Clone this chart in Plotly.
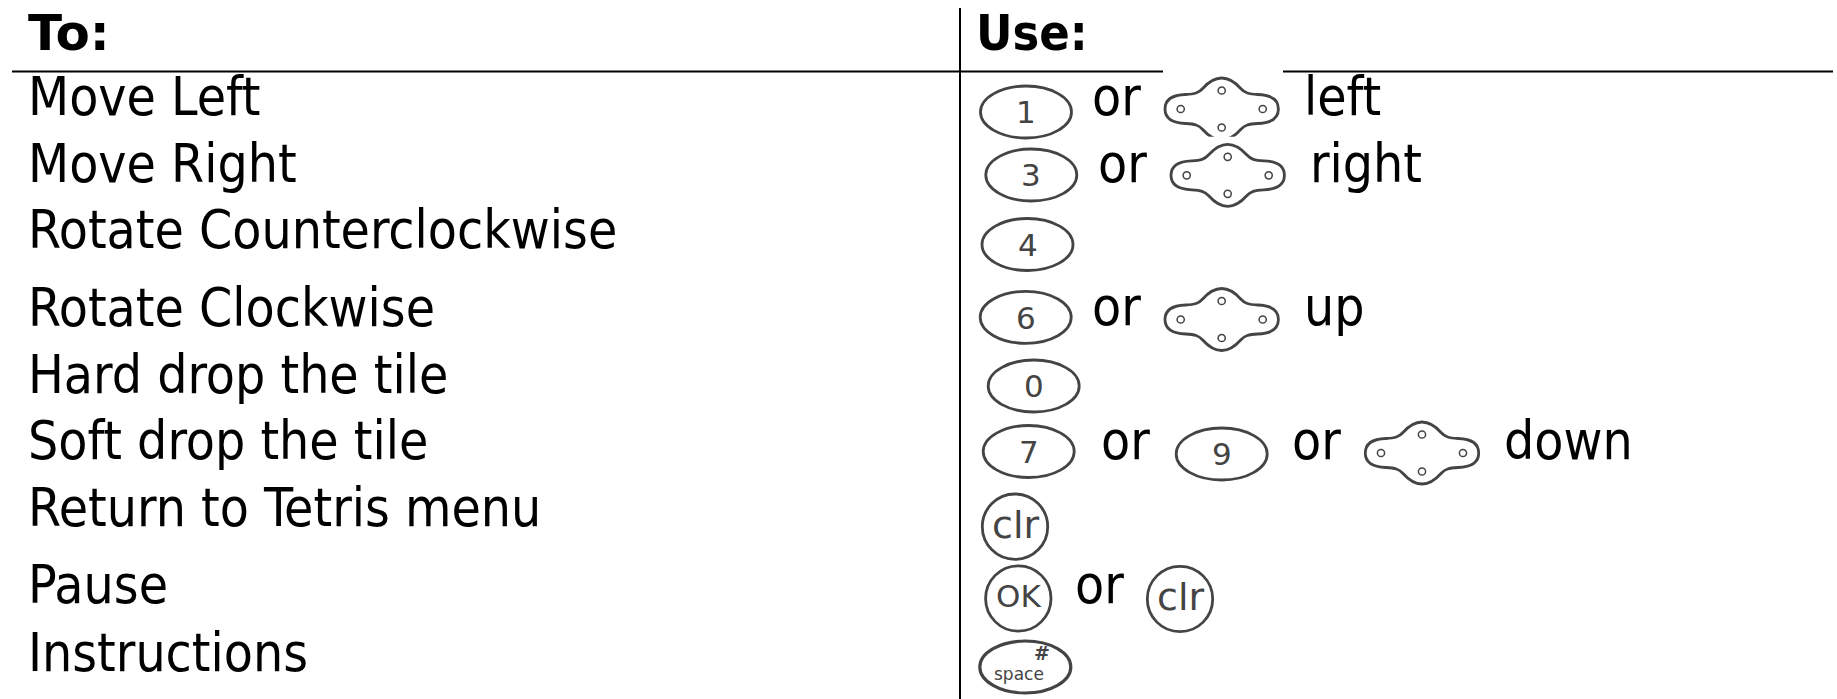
import plotly.graph_objects as go

W, H = 1837, 699
FONT = "DejaVu Sans Condensed"
WIDE_FONT = "DejaVu Sans"
STROKE = "#444444"

# --- table content ---
header_labels = ["To:", "Use:"]
header_x = [27, 975]
header_fonts = [WIDE_FONT, FONT]
header_baseline = 50

action_labels = ["Move Left", "Move Right", "Rotate Counterclockwise", "Rotate Clockwise",
                 "Hard drop the tile", "Soft drop the tile", "Return to Tetris menu",
                 "Pause", "Instructions"]
action_baselines = [115, 181.5, 248, 326, 393, 459, 526, 603, 671]
action_x = 27

word_labels = ["or", "left", "or", "right", "or", "up", "or", "or", "down", "or"]
word_x = [1091, 1303, 1097, 1309, 1091, 1303, 1100, 1291, 1503, 1074]
word_baselines = [115, 115, 181.5, 181.5, 325, 325, 459, 459, 459, 603]

oval_labels = ["1", "3", "4", "6", "0", "7", "9"]
oval_cx = [1026, 1031.3, 1027.5, 1025.7, 1033.7, 1028.7, 1221.7]
oval_cy = [112, 175, 244.5, 317.3, 386, 451.5, 454]
oval_rx, oval_ry = 45.5, 26

round_labels = ["clr", "OK", "clr"]
round_sizes = [38, 31, 38]
round_drop = [11.6, 8.5, 11.6]
round_cx = [1015, 1018.3, 1180]
round_cy = [526.7, 598.5, 599]
round_r = 32.7

space_cx, space_cy = 1025.3, 667

dpad_cx = [1221.7, 1227.7, 1221.7, 1422]
dpad_cy = [109, 175.3, 319.5, 453]

rule_y = 71.5
rule_segments = [(12, 1163), (1283, 1833)]
divider_x = 960


def dpad_path(cx, cy):
    pts = [("M", [(0, -31)]),
           ("C", [(9, -31), (15, -25), (19, -20.5)]),
           ("C", [(23, -16), (27, -15), (36, -14.5)]),
           ("C", [(50, -14), (56.7, -9), (56.7, 0)]),
           ("C", [(56.7, 9), (50, 14), (36, 14.5)]),
           ("C", [(27, 15), (23, 16), (19, 20.5)]),
           ("C", [(15, 25), (9, 31), (0, 31)]),
           ("C", [(-9, 31), (-15, 25), (-19, 20.5)]),
           ("C", [(-23, 16), (-27, 15), (-36, 14.5)]),
           ("C", [(-50, 14), (-56.7, 9), (-56.7, 0)]),
           ("C", [(-56.7, -9), (-50, -14), (-36, -14.5)]),
           ("C", [(-27, -15), (-23, -16), (-19, -20.5)]),
           ("C", [(-15, -25), (-9, -31), (0, -31)])]
    return " ".join(c + " " + " ".join(f"{cx + x:.1f},{cy + y:.1f}" for x, y in p) for c, p in pts) + " Z"


shapes = []


def ellipse(cx, cy, rx, ry, width=2.8, color=STROKE):
    shapes.append(dict(type="circle", xref="x", yref="y", x0=cx - rx, x1=cx + rx,
                       y0=cy - ry, y1=cy + ry, line=dict(color=color, width=width)))


for x0, x1 in rule_segments:
    shapes.append(dict(type="line", xref="x", yref="y", x0=x0, x1=x1, y0=rule_y, y1=rule_y,
                       line=dict(color="black", width=2)))
shapes.append(dict(type="line", xref="x", yref="y", x0=divider_x, x1=divider_x, y0=8, y1=H,
                   line=dict(color="black", width=2)))

for cx, cy in zip(oval_cx, oval_cy):
    ellipse(cx, cy, oval_rx, oval_ry)
for cx, cy in zip(round_cx, round_cy):
    ellipse(cx, cy, round_r, round_r)
ellipse(space_cx, space_cy, oval_rx, oval_ry, width=3.2)

for cx, cy in zip(dpad_cx, dpad_cy):
    shapes.append(dict(type="path", xref="x", yref="y", path=dpad_path(cx, cy),
                       line=dict(color=STROKE, width=2.8)))
    for dx, dy in [(0, -18.5), (0, 18.5), (-41, 0), (41, 0)]:
        ellipse(cx + dx, cy + dy, 3.6, 3.6, width=1.5)

# the first pad is cropped along its lower edge in the reference
shapes.append(dict(type="rect", xref="x", yref="y", x0=1195, x1=1250, y0=136.7, y1=142,
                   line=dict(width=0), fillcolor="white"))

annotations = []


def text(label, x, baseline, size, bold=False, color="black", anchor="left", family=FONT, shift=0.346):
    annotations.append(dict(text=f"<b>{label}</b>" if bold else label, x=x,
                            y=baseline - shift * size, xref="x", yref="y", xanchor=anchor,
                            yanchor="middle", showarrow=False, borderpad=0,
                            font=dict(family=family, size=size, color=color)))


for label, x, fam in zip(header_labels, header_x, header_fonts):
    text(label, x, header_baseline, 50, bold=True, family=fam)
for label, b in zip(action_labels, action_baselines):
    text(label, action_x, b, 53)
for label, x, b in zip(word_labels, word_x, word_baselines):
    text(label, x, b, 53)
for label, cx, cy in zip(oval_labels, oval_cx, oval_cy):
    text(label, cx, cy + 11, 31, color=STROKE, anchor="center", family=WIDE_FONT)
for label, cx, cy, size, drop in zip(round_labels, round_cx, round_cy, round_sizes, round_drop):
    text(label, cx, cy + drop, size, color=STROKE, anchor="center", family=WIDE_FONT)
text("#", space_cx + 17, space_cy - 7, 19, bold=True, color=STROKE, anchor="center", family=WIDE_FONT)
text("space", space_cx - 6, space_cy + 13, 17, color=STROKE, anchor="center", family=WIDE_FONT)

fig = go.Figure()
fig.update_layout(width=W, height=H, margin=dict(l=0, r=0, t=0, b=0),
                  paper_bgcolor="white", plot_bgcolor="white", showlegend=False,
                  xaxis=dict(range=[0, W], visible=False, fixedrange=True),
                  yaxis=dict(range=[H, 0], visible=False, fixedrange=True),
                  shapes=shapes, annotations=annotations)
fig.write_html("out.html", config=dict(displayModeBar=False),
               post_script="document.body.style.margin='0';document.body.style.overflow='hidden';")
